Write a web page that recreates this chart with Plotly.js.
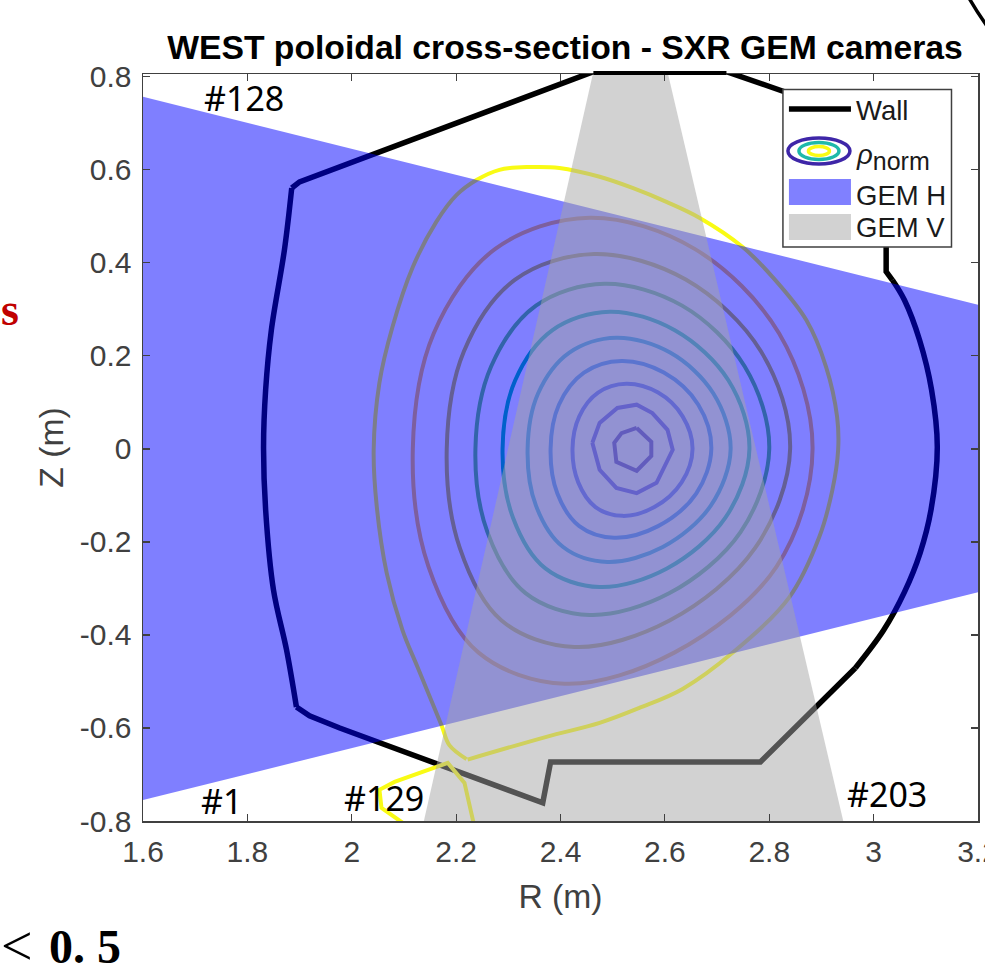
<!DOCTYPE html>
<html>
<head>
<meta charset="utf-8">
<script src="https://cdn.plot.ly/plotly-3.0.1.min.js"></script>
<style>html,body{margin:0;padding:0;background:#fff;overflow:hidden}</style>
</head>
<body>
<div id="chart" style="width:985px;height:973px"></div>
<script>
// Wall outline pieces (R, Z in metres)
const wallTopR = [1.885,1.900,2.463,2.718,2.829,3.024,3.024,3.036];
const wallTopZ = [0.561,0.574,0.811,0.811,0.768,0.643,0.381,0.363];
const wallRightR = [3.036,3.059,3.088,3.111,3.122,3.110,3.089,3.059,3.019,2.965];
const wallRightZ = [0.363,0.320,0.234,0.127,0.004,-0.131,-0.224,-0.308,-0.390,-0.471];
const wallBottomR = [2.965,2.783,2.381,2.366,1.977,1.919,1.894];
const wallBottomZ = [-0.471,-0.673,-0.673,-0.761,-0.600,-0.574,-0.555];
const wallLeftR = [1.894,1.875,1.850,1.835,1.831,1.835,1.846,1.871,1.885];
const wallLeftZ = [-0.555,-0.432,-0.303,-0.131,0.004,0.127,0.256,0.428,0.561];

// Flux surfaces, outermost (separatrix) first
const sepR = [2.220,2.187,2.172,2.126,2.097,2.067,2.048,2.042,2.053,2.078,2.117,2.162,2.201,2.239,2.283,2.341,2.398,2.475,2.538,2.603,2.666,2.749,2.806,2.871,2.909,2.930,2.932,2.921,2.896,2.839,2.729,2.634,2.551,2.475,2.373,2.222];
const sepZ = [-0.667,-0.637,-0.594,-0.469,-0.389,-0.267,-0.125,-0.002,0.142,0.262,0.391,0.488,0.546,0.578,0.600,0.606,0.604,0.585,0.561,0.531,0.497,0.434,0.370,0.277,0.176,0.069,-0.002,-0.088,-0.189,-0.318,-0.439,-0.516,-0.557,-0.589,-0.619,-0.668];
const legR = [2.108,2.057,2.053,2.082,2.184,2.216,2.235];
const legZ = [-0.812,-0.772,-0.733,-0.716,-0.675,-0.718,-0.812];
const r1R = [2.883,2.819,2.657,2.456,2.275,2.157,2.117,2.147,2.243,2.408,2.618,2.814,2.883];
const r1Z = [0,0.248,0.430,0.497,0.430,0.248,0,-0.253,-0.438,-0.505,-0.438,-0.253,0];
const r2R = [2.840,2.784,2.640,2.465,2.313,2.215,2.182,2.207,2.287,2.427,2.609,2.773,2.840];
const r2Z = [0,0.210,0.364,0.419,0.364,0.210,0,-0.213,-0.369,-0.426,-0.369,-0.213,0];
const r3R = [2.800,2.753,2.633,2.484,2.353,2.267,2.237,2.260,2.333,2.456,2.609,2.745,2.800];
const r3Z = [0,0.177,0.308,0.355,0.308,0.177,0,-0.179,-0.310,-0.357,-0.310,-0.179,0];
const r4R = [2.762,2.722,2.619,2.494,2.384,2.313,2.289,2.309,2.371,2.475,2.604,2.716,2.762];
const r4Z = [0,0.147,0.255,0.295,0.255,0.147,0,-0.148,-0.257,-0.297,-0.257,-0.148,0];
const r5R = [2.726,2.693,2.610,2.507,2.417,2.357,2.337,2.353,2.405,2.490,2.596,2.688,2.726];
const r5Z = [0,0.119,0.207,0.239,0.207,0.119,0,-0.122,-0.211,-0.243,-0.211,-0.122,0];
const r6R = [2.689,2.664,2.598,2.517,2.445,2.397,2.381,2.394,2.436,2.503,2.587,2.660,2.689];
const r6Z = [0,0.095,0.164,0.189,0.164,0.095,0,-0.096,-0.166,-0.191,-0.166,-0.096,0];
const r7R = [2.653,2.634,2.587,2.526,2.472,2.436,2.423,2.434,2.467,2.519,2.580,2.632,2.653];
const r7Z = [0,0.070,0.121,0.140,0.121,0.070,0,-0.072,-0.125,-0.144,-0.125,-0.072,0];
const r8R = [2.461,2.475,2.509,2.546,2.576,2.605,2.615,2.584,2.546,2.507,2.475,2.461];
const r8Z = [0.013,0.056,0.088,0.095,0.077,0.041,-0.002,-0.073,-0.095,-0.084,-0.045,0.013];
const r9R = [2.546,2.574,2.574,2.546,2.507,2.503,2.517,2.546];
const r9Z = [0.045,0.015,-0.015,-0.047,-0.028,0.013,0.034,0.045];

// Camera fields of view
const gemHR = [1.6,3.2,3.2,1.6];
const gemHZ = [0.757,0.310,-0.308,-0.755];
const gemVR = [2.463,2.605,2.942,2.138];
const gemVZ = [0.811,0.811,-0.801,-0.801];

// Text
const xTicks = [1.6,1.8,2,2.2,2.4,2.6,2.8,3,3.2];
const xTickText = ['1.6','1.8','2','2.2','2.4','2.6','2.8','3','3.2'];
const yTicks = [-0.8,-0.6,-0.4,-0.2,0,0.2,0.4,0.6,0.8];
const yTickText = ['-0.8','-0.6','-0.4','-0.2','0','0.2','0.4','0.6','0.8'];
const channelLabels = ['#128','#1','#129','#203'];
const channelR = [1.794,1.751,2.061,3.026];
const channelZ = [0.755,-0.757,-0.751,-0.742];
const legendLabels = ['Wall','<i>ρ</i><sub><span style="font-size:25px">norm</span></sub>','GEM H','GEM V'];

const W = 985, H = 973;
const M = {l:143.3, r:7, t:74, b:152};
const PW = W - M.l - M.r, PH = H - M.t - M.b;
const fx = p => (p - M.l) / PW;
const fy = p => (H - M.b - p) / PH;

function line(x, y, color, width, shape) {
  return {x, y, type:'scatter', mode:'lines', hoverinfo:'skip', showlegend:false,
    line:{color, width, shape:shape||'linear', smoothing:1}};
}
function fan(x, y, color) {
  return {x, y, type:'scatter', mode:'lines', fill:'toself', fillcolor:color, hoverinfo:'skip',
    showlegend:false, line:{width:0}};
}

const traces = [
  line(wallTopR, wallTopZ, '#000000', 5.5),
  line(wallRightR, wallRightZ, '#000000', 5.5, 'spline'),
  line(wallBottomR, wallBottomZ, '#000000', 5.5),
  line(wallLeftR, wallLeftZ, '#000000', 5.5, 'spline'),
  line(sepR, sepZ, 'rgb(249,251,20)', 4, 'spline'),
  line(legR, legZ, 'rgb(249,251,20)', 4),
  line(r1R, r1Z, 'rgb(250,190,60)', 4, 'spline'),
  line(r2R, r2Z, 'rgb(200,190,40)', 4, 'spline'),
  line(r3R, r3Z, 'rgb(100,200,85)', 4, 'spline'),
  line(r4R, r4Z, 'rgb(0,192,150)', 4, 'spline'),
  line(r5R, r5Z, 'rgb(20,170,215)', 4, 'spline'),
  line(r6R, r6Z, 'rgb(35,135,240)', 4, 'spline'),
  line(r7R, r7Z, 'rgb(65,90,245)', 4, 'spline'),
  line(r8R, r8Z, 'rgb(70,60,220)', 4),
  line(r9R, r9Z, 'rgb(62,38,168)', 4),
  fan(gemHR, gemHZ, 'rgba(0,0,255,0.5)'),
  fan(gemVR, gemVZ, 'rgba(165,165,165,0.5)')
];

const textColor = '#404040';
const annotations = channelLabels.map((t,i) => ({
  text:t, x:channelR[i], y:channelZ[i], xref:'x', yref:'y', showarrow:false,
  xanchor:'center', yanchor:'middle', font:{family:'"Noto Sans"', size:34, color:'#000'}
}));
const legY = [111,157,195,227];
legendLabels.forEach((t,i) => annotations.push({
  text:t, x:fx(855), y:fy(legY[i]), xref:'paper', yref:'paper', showarrow:false,
  xanchor:'left', yanchor:'middle', borderpad:0,
  font:{family:'"Liberation Sans"', size:27.5, color:'#1a1a1a'}
}));
function outside(text, px, py, size, color) {
  annotations.push({text, x:fx(px), y:fy(py), xref:'paper', yref:'paper', showarrow:false,
    xanchor:'left', yanchor:'middle', borderpad:0,
    font:{family:'"Liberation Serif"', size, color}});
}
outside('<b>s</b>', 0, 309, 46, '#c00000');
outside('&lt;', 0, 946, 56, '#000');
outside('<b>0. 5</b>', 48, 946, 48, '#000');

function ellipse(cx, cy, rx, ry, color) {
  return {type:'circle', xref:'paper', yref:'paper', layer:'above',
    x0:fx(cx-rx), x1:fx(cx+rx), y0:fy(cy+ry), y1:fy(cy-ry),
    line:{color, width:3.5}, fillcolor:'rgba(0,0,0,0)'};
}
const shapes = [
  {type:'line', xref:'x', yref:'paper', layer:'above', x0:wallTopR[2], x1:wallTopR[3], y0:fy(73), y1:fy(73),
    line:{color:'#000', width:4}},
  {type:'rect', xref:'paper', yref:'paper', layer:'above', x0:fx(783), x1:fx(951.5), y0:fy(247), y1:fy(89.5),
    fillcolor:'#ffffff', line:{color:'#404040', width:1.5}},
  {type:'line', xref:'paper', yref:'paper', layer:'above', x0:fx(789), x1:fx(851), y0:fy(109), y1:fy(109),
    line:{color:'#000', width:5.5}},
  ellipse(819,151,31,13,'rgb(62,38,168)'),
  ellipse(819,151,20,8.5,'rgb(30,185,170)'),
  ellipse(819,151,10.5,4.5,'rgb(249,251,20)'),
  {type:'rect', xref:'paper', yref:'paper', layer:'above', x0:fx(789), x1:fx(851), y0:fy(205), y1:fy(179),
    fillcolor:'#8080ff', line:{width:0}},
  {type:'rect', xref:'paper', yref:'paper', layer:'above', x0:fx(789), x1:fx(851), y0:fy(240), y1:fy(214),
    fillcolor:'#d2d2d2', line:{width:0}},
  {type:'path', xref:'paper', yref:'paper', layer:'above',
    path:`M ${fx(969)} ${fy(-2)} Q ${fx(977)} ${fy(12)} ${fx(987)} ${fy(26)}`,
    line:{color:'#000', width:3.5}, fillcolor:'rgba(0,0,0,0)'}
];

const axisCommon = {
  showgrid:false, zeroline:false, showline:true, mirror:'ticks', linecolor:'#404040', linewidth:1.5,
  ticks:'inside', ticklen:7, tickwidth:1.2, tickcolor:'#404040', ticklabeloverflow:'allow',
  tickfont:{family:'"Liberation Sans"', size:30, color:textColor}, tickmode:'array', layer:'above traces'
};

const layout = {
  width:W, height:H, autosize:false, margin:M, paper_bgcolor:'#fff', plot_bgcolor:'#fff', showlegend:false,
  title:{text:'<b>WEST poloidal cross-section - SXR GEM cameras</b>', x:565/W, xanchor:'center', y:1-47/H, yanchor:'middle',
    font:{family:'"Liberation Sans"', size:33.7, color:'#000'}},
  xaxis:Object.assign({}, axisCommon, {range:[1.6,3.2], tickvals:xTicks, ticktext:xTickText, ticklabelstandoff:3,
    title:{text:'R (m)', standoff:18, font:{family:'"Liberation Sans"', size:33.7, color:textColor}}}),
  yaxis:Object.assign({}, axisCommon, {range:[-0.8,0.806], tickvals:yTicks, ticktext:yTickText, ticklabelstandoff:4,
    title:{text:'Z (m)', standoff:6, font:{family:'"Liberation Sans"', size:33.7, color:textColor}}}),
  annotations, shapes
};
Plotly.newPlot('chart', traces, layout, {displayModeBar:false, staticPlot:true});
</script>
</body>
</html>
